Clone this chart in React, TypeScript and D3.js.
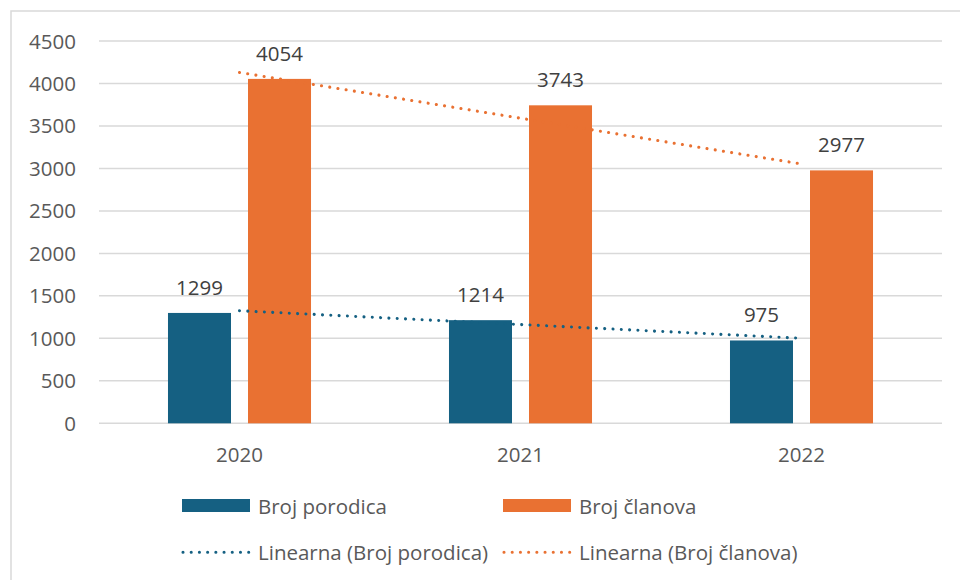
import React from "react";
import * as d3 from "d3";

const years = ["2020", "2021", "2022"];
const seriesNames = ["Broj porodica", "Broj članova"];
const porodica = [1299, 1214, 975];
const clanova = [4054, 3743, 2977];
const yTicks = [0, 500, 1000, 1500, 2000, 2500, 3000, 3500, 4000, 4500];
const trendNames = ["Linearna (Broj porodica)", "Linearna (Broj članova)"];

const COLORS = ["#156082", "#E97132"];
const FONT = "'Open Sans', 'Noto Sans', sans-serif";
const FS = 20.5;

function linearFit(vals: number[]) {
  const xs = vals.map((_, i) => i + 1);
  const mx = d3.mean(xs) as number;
  const my = d3.mean(vals) as number;
  let num = 0, den = 0;
  xs.forEach((x, i) => { num += (x - mx) * (vals[i] - my); den += (x - mx) * (x - mx); });
  const slope = num / den;
  return xs.map((x) => my + slope * (x - mx));
}

export default function App() {
  const W = 960, H = 580;
  const left = 99, right = 942, top = 41, bottom = 423.3;
  const y = d3.scaleLinear().domain([0, 4500]).range([bottom, top]);
  const x = d3.scaleBand<string>().domain(years).range([left, right]).paddingInner(0).paddingOuter(0);
  const bw = x.bandwidth();
  const groupW = bw * 0.509;
  const xs = d3.scaleBand<string>().domain(seriesNames).range([(bw - groupW) / 2, (bw + groupW) / 2]).paddingInner(0.2125).paddingOuter(0);
  const data = [porodica, clanova];
  const trends = data.map(linearFit);
  const line = d3.line<number>().x((_, i) => (x(years[i]) as number) + bw / 2).y((d) => y(d));
  const legendX = [182, 503];

  return (
    <svg width={W} height={H} style={{ position: "absolute", left: 0, top: 0, background: "#fff" }} fontFamily={FONT}>
      <rect x={11} y={11} width={W + 10} height={H + 10} fill="#fff" stroke="#d9d9d9" strokeWidth={1.5} />
      {yTicks.map((t) => (
        <g key={t}>
          <line x1={left} x2={right} y1={y(t)} y2={y(t)} stroke="#d9d9d9" strokeWidth={1.5} />
          <text x={76} y={y(t) + 7.5} textAnchor="end" fontSize={FS} fill="#595959">{t}</text>
        </g>
      ))}
      {data.map((vals, si) =>
        vals.map((v, i) => {
          const bx = (x(years[i]) as number) + (xs(seriesNames[si]) as number);
          return (
            <g key={si + "-" + i}>
              <rect x={bx} y={y(v)} width={xs.bandwidth()} height={y(0) - y(v)} fill={COLORS[si]} />
              <text x={bx + xs.bandwidth() / 2} y={y(v) - 18} textAnchor="middle" fontSize={FS} fill="#404040">{v}</text>
            </g>
          );
        })
      )}
      {trends.map((t, si) => (
        <path key={si} d={line(t) || ""} fill="none" stroke={COLORS[si]} strokeWidth={3.1} strokeLinecap="round" strokeDasharray="0.01 8.3" />
      ))}
      {years.map((yr) => (
        <text key={yr} x={(x(yr) as number) + bw / 2} y={462.3} textAnchor="middle" fontSize={FS} fill="#595959">{yr}</text>
      ))}
      {seriesNames.map((n, i) => {
        const lx = legendX[i];
        return (
          <g key={n}>
            <rect x={lx} y={499} width={68} height={13} fill={COLORS[i]} />
            <text x={lx + 76} y={514} fontSize={FS} fill="#595959">{n}</text>
          </g>
        );
      })}
      {trendNames.map((n, i) => {
        const lx = legendX[i];
        return (
          <g key={n}>
            <line x1={lx + 1} x2={lx + 67} y1={552.3} y2={552.3} stroke={COLORS[i]} strokeWidth={3.1} strokeLinecap="round" strokeDasharray="0.01 8.2" />
            <text x={lx + 76} y={560} fontSize={FS} fill="#595959">{n}</text>
          </g>
        );
      })}
    </svg>
  );
}
